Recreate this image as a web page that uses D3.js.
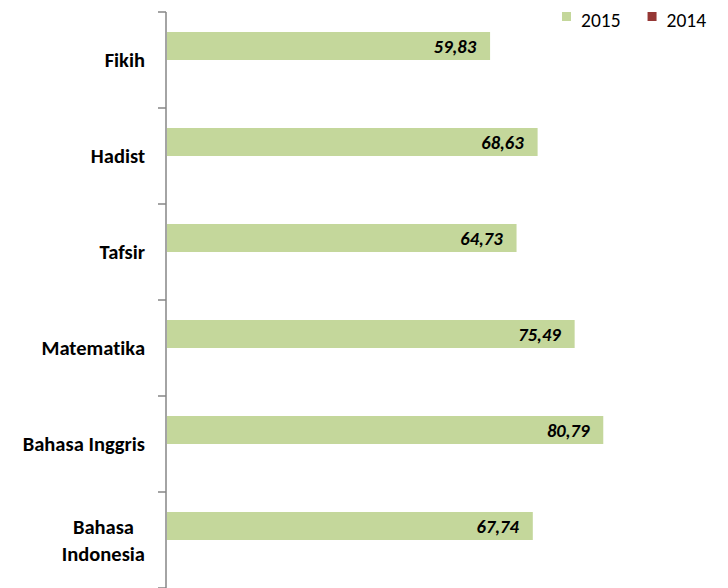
<!DOCTYPE html>
<html>
<head>
<meta charset="utf-8">
<script src="https://cdn.jsdelivr.net/npm/d3@7"></script>
<style>
  body { margin: 0; background: #fff; }
  svg { font-family: Carlito, Calibri, Lato, sans-serif; font-variant-ligatures: none; }
  .cat { font-size: 20.5px; font-weight: bold; fill: #000; }
  .val { font-size: 18.5px; font-weight: bold; font-style: italic; fill: #000; }
  .legend text { font-size: 19.5px; fill: #000; }
</style>
</head>
<body>
<svg class="chart"></svg>
<script>
// Data
const categories = ['Fikih', 'Hadist', 'Tafsir', 'Matematika', 'Bahasa Inggris', 'Bahasa Indonesia'];
const series = ['2015', '2014'];
const values2015 = [59.83, 68.63, 64.73, 75.49, 80.79, 67.74];
const values2014 = [0, 0, 0, 0, 0, 0];
const seriesColors = ['#c4d79b', '#953735'];

let width = 728;
let height = 588;

let svg = d3.select('svg.chart')
  .attr('width', width)
  .attr('height', height);

//Scales
let x = d3.scaleLinear().domain([0, 100]).range([167, 707]);
let y = d3.scaleBand()
  .domain(categories)
  .range([12, 588])
  .paddingInner(40 / 96)
  .paddingOuter(20 / 96);
let ySub = d3.scaleBand().domain(series).range([0, y.bandwidth()]);

let rows = categories.map((c, i) => ({ cat: c, vals: [values2015[i], values2014[i]] }));

//Bars
let groups = svg.selectAll('.grp')
  .data(rows)
  .enter()
  .append('g')
    .attr('class', 'grp')
    .attr('transform', d => 'translate(0,' + y(d.cat) + ')');

groups.selectAll('rect')
  .data(d => d.vals.map((v, j) => ({ key: series[j], v: v, color: seriesColors[j] })))
  .enter()
  .append('rect')
    .attr('x', x(0))
    .attr('y', d => ySub(d.key))
    .attr('width', d => x(d.v) - x(0))
    .attr('height', ySub.bandwidth())
    .attr('fill', d => d.color);

//Value labels (2015 only, 2014 is empty)
groups.append('text')
  .attr('class', 'val')
  .attr('x', d => x(d.vals[0]) - 14)
  .attr('y', ySub('2015') + ySub.bandwidth() / 2 + 1)
  .attr('dy', '0.35em')
  .attr('text-anchor', 'end')
  .text(d => d3.format('.2f')(d.vals[0]).replace('.', ','));

//Axis line and boundary ticks
let step = y.step();
let yTop = y.range()[0];
let boundaries = d3.range(categories.length + 1).map(i => yTop + i * step);

svg.append('line')
  .attr('x1', 166).attr('x2', 166)
  .attr('y1', yTop).attr('y2', y.range()[1])
  .attr('stroke', '#868686')
  .attr('stroke-width', 1.5);

svg.selectAll('.tick')
  .data(boundaries)
  .enter()
  .append('line')
    .attr('class', 'tick')
    .attr('x1', 158).attr('x2', 166)
    .attr('y1', d => d).attr('y2', d => d)
    .attr('stroke', '#868686')
    .attr('stroke-width', 1.5);

//Category labels, wrap long ones
let labelRight = 145;
rows.forEach(d => {
  let cy = y(d.cat) + y.bandwidth() / 2;
  let t = svg.append('text').attr('class', 'cat').attr('text-anchor', 'end')
    .attr('x', labelRight).attr('y', cy).attr('dy', '0.35em').text(d.cat);
  if (t.node().getComputedTextLength() > 135) {
    t.remove();
    let words = d.cat.split(' ');
    let g = svg.append('g');
    let lines = words.map((w, k) => g.append('text').attr('class', 'cat')
      .attr('text-anchor', 'middle')
      .attr('y', cy + (k - (words.length - 1) / 2) * 27)
      .attr('dy', '0.35em')
      .text(w));
    let maxW = d3.max(lines, l => l.node().getComputedTextLength());
    lines.forEach(l => l.attr('x', labelRight - maxW / 2));
  }
});

//Legend
let legend = svg.append('g').attr('class', 'legend');
let lx = 562;
series.forEach((s, i) => {
  legend.append('rect')
    .attr('x', lx).attr('y', 12)
    .attr('width', 9).attr('height', 9)
    .attr('fill', seriesColors[i]);
  let t = legend.append('text')
    .attr('x', lx + 19).attr('y', 20)
    .attr('dy', '0.35em')
    .text(s);
  lx += 19 + t.node().getComputedTextLength() + 27;
});
</script>
</body>
</html>
